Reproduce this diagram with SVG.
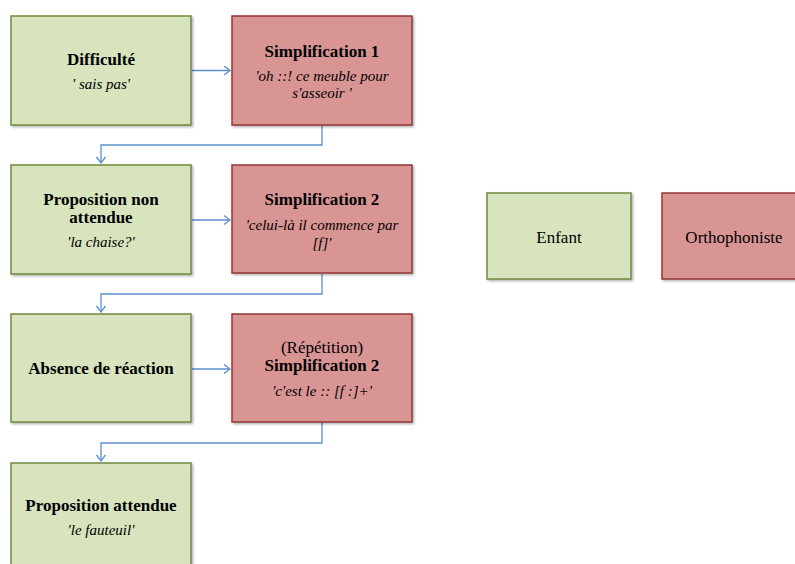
<svg xmlns="http://www.w3.org/2000/svg" width="795" height="564" viewBox="0 0 795 564">
<style>
text{font-family:"Liberation Serif","Times New Roman","DejaVu Serif",serif;fill:#000;text-anchor:middle}
.g{fill:#d7e4bd;stroke:#71893f;stroke-width:1.5}
.r{fill:#d99594;stroke:#943634;stroke-width:1.5}
.b{font-weight:bold;font-size:17px}
.i{font-style:italic;font-size:15px}
.n{font-size:17px}
.c{fill:none;stroke:#5b8fd0;stroke-width:1.3}
</style>
<defs>
<marker id="ah" markerWidth="12" markerHeight="12" refX="9" refY="5" orient="auto" markerUnits="userSpaceOnUse">
<polyline points="3,0.5 9,5 3,9.5" fill="none" stroke="#5b8fd0" stroke-width="1.3"/>
</marker>
<filter id="sh" x="-10%" y="-10%" width="130%" height="130%">
<feDropShadow dx="1.5" dy="1.5" stdDeviation="1" flood-color="#000" flood-opacity="0.3"/>
</filter>
</defs>
<g id="connectors">
<line class="c" x1="192" y1="70.5" x2="230" y2="70.5" marker-end="url(#ah)"/>
<polyline class="c" points="322,125 322,145 101,145 101,163" marker-end="url(#ah)"/>
<line class="c" x1="192" y1="220" x2="230" y2="220" marker-end="url(#ah)"/>
<polyline class="c" points="322,274 322,294 101,294 101,312" marker-end="url(#ah)"/>
<line class="c" x1="192" y1="369" x2="230" y2="369" marker-end="url(#ah)"/>
<polyline class="c" points="322,422 322,443 101,443 101,461" marker-end="url(#ah)"/>
</g>
<g id="n1">
<rect class="g" x="11" y="16" width="180" height="109" filter="url(#sh)"/>
<text class="b" x="101" y="65">Difficulté</text>
<text class="i" x="101" y="89">' sais pas'</text>
</g>
<g id="n2">
<rect class="r" x="232" y="16" width="180" height="109" filter="url(#sh)"/>
<text class="b" x="322" y="57">Simplification 1</text>
<text class="i" x="322" y="81">'oh ::! ce meuble pour</text>
<text class="i" x="322" y="98">s'asseoir '</text>
</g>
<g id="n3">
<rect class="g" x="11" y="165" width="180" height="109" filter="url(#sh)"/>
<text class="b" x="101" y="205">Proposition non</text>
<text class="b" x="101" y="223">attendue</text>
<text class="i" x="101" y="247">'la chaise?'</text>
</g>
<g id="n4">
<rect class="r" x="232" y="165" width="180" height="108" filter="url(#sh)"/>
<text class="b" x="322" y="205">Simplification 2</text>
<text class="i" x="322" y="230">'celui-là il commence par</text>
<text class="i" x="322" y="248">[f]'</text>
</g>
<g id="n5">
<rect class="g" x="11" y="314" width="180" height="108" filter="url(#sh)"/>
<text class="b" x="101" y="374">Absence de réaction</text>
</g>
<g id="n6">
<rect class="r" x="232" y="314" width="180" height="108" filter="url(#sh)"/>
<text class="n" x="322" y="353">(Répétition)</text>
<text class="b" x="322" y="371">Simplification 2</text>
<text class="i" x="322" y="396">'c'est le :: [f :]+'</text>
</g>
<g id="n7">
<rect class="g" x="11" y="463" width="180" height="120" filter="url(#sh)"/>
<text class="b" x="101" y="511">Proposition attendue</text>
<text class="i" x="101" y="535">'le fauteuil'</text>
</g>
<g id="legend-enfant">
<rect class="g" x="487" y="193" width="144" height="86" filter="url(#sh)"/>
<text class="n" x="559" y="243">Enfant</text>
</g>
<g id="legend-ortho">
<rect class="r" x="662" y="193" width="144" height="86" filter="url(#sh)"/>
<text class="n" x="734" y="243">Orthophoniste</text>
</g>
</svg>
